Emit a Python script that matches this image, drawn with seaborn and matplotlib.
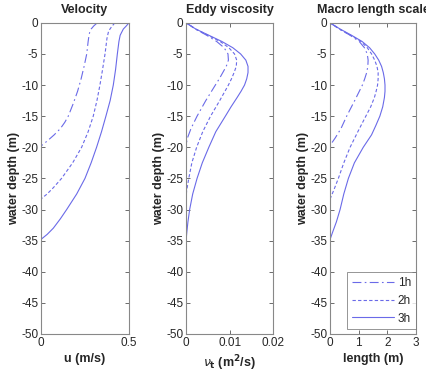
import numpy as np
import pandas as pd
import matplotlib
matplotlib.use("Agg")
import matplotlib.pyplot as plt
import seaborn as sns

sns.set_style("white")
plt.rcParams['font.family'] = ['Liberation Sans', 'DejaVu Sans']

# ---- Data ----
series = ["1h", "2h", "3h"]

vel_depth_1h = [0, -0.5, -1, -1.5, -2, -3, -5, -7, -9, -11, -13, -15, -16, -17, -18, -19, -19.8]
vel_u_1h = [0.32, 0.30, 0.285, 0.277, 0.273, 0.268, 0.26, 0.245, 0.228, 0.208, 0.183, 0.155, 0.135, 0.11, 0.075, 0.035, 0.0]
vel_depth_2h = [0, -0.5, -1, -1.5, -2.5, -5, -7.5, -10, -12.5, -15, -17.5, -20, -22.5, -25, -26.5, -27.5, -28.3]
vel_u_2h = [0.42, 0.405, 0.392, 0.383, 0.375, 0.364, 0.35, 0.335, 0.318, 0.297, 0.268, 0.231, 0.18, 0.117, 0.07, 0.035, 0.0]
vel_depth_3h = [0, -0.5, -1, -2, -3, -5, -7.5, -10, -12.5, -15, -17.5, -20, -22.5, -25, -27.5, -30, -31.5, -33, -34, -34.8]
vel_u_3h = [0.5, 0.485, 0.468, 0.45, 0.443, 0.434, 0.424, 0.411, 0.393, 0.369, 0.344, 0.316, 0.285, 0.25, 0.203, 0.146, 0.11, 0.07, 0.035, 0.0]

ev_depth_1h = [0, -1, -2, -3, -4, -5, -6, -7, -8, -9, -10, -12.5, -15, -17, -18.5, -19.5, -50]
ev_nu_1h = [0, 0.0021, 0.0047, 0.0070, 0.0087, 0.0096, 0.0097, 0.0092, 0.0084, 0.0076, 0.0067, 0.0045, 0.0025, 0.0011, 0.0003, 0.0, 0.0]
ev_depth_2h = [0, -1, -2, -3, -4, -5, -6, -7, -8, -9, -10, -12.5, -15, -17.5, -20, -22.5, -25, -27, -28, -50]
ev_nu_2h = [0, 0.0022, 0.005, 0.0078, 0.0098, 0.0111, 0.0116, 0.0115, 0.011, 0.0104, 0.0097, 0.0077, 0.0056, 0.0038, 0.0024, 0.0013, 0.0006, 0.0001, 0.0, 0.0]
ev_depth_3h = [0, -1, -2, -3, -4, -5, -6, -7, -8, -9, -10, -11, -12, -13.5, -15, -17.5, -20, -22.5, -25, -27.5, -30, -32, -34, -35, -50]
ev_nu_3h = [0, 0.0022, 0.0052, 0.0082, 0.0107, 0.0125, 0.0137, 0.0142, 0.0142, 0.0139, 0.0134, 0.0126, 0.0117, 0.0103, 0.009, 0.0068, 0.0052, 0.0037, 0.0025, 0.0015, 0.0008, 0.0004, 0.0001, 0.0, 0.0]

ls_depth_1h = [0, -1, -2, -3, -4, -5, -6, -7, -8, -9, -10, -12.5, -15, -17, -18.5, -19.7]
ls_len_1h = [0, 0.32, 0.7, 1.02, 1.2, 1.3, 1.33, 1.32, 1.28, 1.21, 1.13, 0.86, 0.58, 0.38, 0.18, 0.0]
ls_depth_2h = [0, -1, -2, -3, -4, -5, -6, -7, -8, -9, -10, -11, -12, -13.5, -15, -17.5, -20, -22.5, -25, -27, -28.3]
ls_len_2h = [0, 0.33, 0.72, 1.08, 1.3, 1.45, 1.56, 1.64, 1.68, 1.68, 1.66, 1.61, 1.55, 1.42, 1.25, 0.97, 0.7, 0.48, 0.29, 0.12, 0.0]
ls_depth_3h = [0, -1, -2, -3, -4, -5, -6, -7, -8, -9, -10, -11, -12, -13.5, -15, -16.5, -18, -20, -22.5, -25, -27.5, -30, -32, -33.5, -34.8]
ls_len_3h = [0, 0.35, 0.75, 1.12, 1.38, 1.56, 1.7, 1.8, 1.86, 1.9, 1.92, 1.92, 1.9, 1.84, 1.74, 1.6, 1.45, 1.16, 0.85, 0.64, 0.48, 0.35, 0.22, 0.1, 0.0]

y_ticks = [0, -5, -10, -15, -20, -25, -30, -35, -40, -45, -50]

def frame(xs, ds):
    rows = []
    for name, x, d in zip(series, xs, ds):
        for xi, di in zip(x, d):
            rows.append({"series": name, "x": xi, "depth": di})
    return pd.DataFrame(rows)

panels = [
    dict(df=frame([vel_u_1h, vel_u_2h, vel_u_3h], [vel_depth_1h, vel_depth_2h, vel_depth_3h]),
         title="Velocity", xlabel="u (m/s)", xlim=(0, 0.5), xticks=[0, 0.5], xticklabels=["0", "0.5"]),
    dict(df=frame([ev_nu_1h, ev_nu_2h, ev_nu_3h], [ev_depth_1h, ev_depth_2h, ev_depth_3h]),
         title="Eddy viscosity", xlabel=r"$\nu_\mathbf{t}$ (m$^\mathbf{2}$/s)", xlim=(0, 0.02),
         xticks=[0, 0.01, 0.02], xticklabels=["0", "0.01", "0.02"]),
    dict(df=frame([ls_len_1h, ls_len_2h, ls_len_3h], [ls_depth_1h, ls_depth_2h, ls_depth_3h]),
         title="Macro length scale", xlabel="length (m)", xlim=(0, 3),
         xticks=[0, 1, 2, 3], xticklabels=["0", "1", "2", "3"]),
]

color = "#6a6ae8"
styles = {"1h": (0, (8, 3, 1.5, 3)), "2h": (0, (3, 2)), "3h": "-"}

fig = plt.figure(figsize=(4.27, 3.74), dpi=100)
lefts = [0.096, 0.436, 0.773]
widths = [0.206, 0.204, 0.201]

for i, p in enumerate(panels):
    ax = fig.add_axes([lefts[i], 0.107, widths[i], 0.832])
    for s in series:
        sub = p["df"][p["df"]["series"] == s]
        sns.lineplot(data=sub, x="x", y="depth", sort=False, estimator=None,
                     color=color, lw=0.8, linestyle=styles[s], ax=ax, label=s)
    ax.set_xlim(*p["xlim"])
    ax.set_ylim(-50, 0)
    ax.set_xticks(p["xticks"])
    ax.set_xticklabels(p["xticklabels"])
    ax.set_yticks(y_ticks)
    ax.set_yticklabels([str(t) for t in y_ticks])
    ax.tick_params(direction="in", length=3, width=0.6, labelsize=8.5, color="#555555",
                   top=True, right=True, bottom=True, left=True, pad=2)
    for sp in ax.spines.values():
        sp.set_color("#888888")
        sp.set_linewidth(0.8)
    ax.set_title(p["title"], fontsize=9, fontweight="bold", pad=7)
    ax.set_xlabel(p["xlabel"], fontsize=9, fontweight="bold", labelpad=3)
    ax.set_ylabel("water depth (m)", fontsize=9, fontweight="bold", labelpad=1)
    if i == 2:
        leg = ax.legend(loc="lower right", bbox_to_anchor=(1.0, 0.015), borderaxespad=0,
                        fontsize=8.5, frameon=True, fancybox=False,
                        handlelength=3.6, borderpad=0.4, labelspacing=0.5, handletextpad=0.3)
        leg.get_frame().set_edgecolor("#666666")
        leg.get_frame().set_linewidth(0.6)
    else:
        lg = ax.get_legend()
        if lg is not None:
            lg.remove()

fig.savefig("out.png", dpi=100)
